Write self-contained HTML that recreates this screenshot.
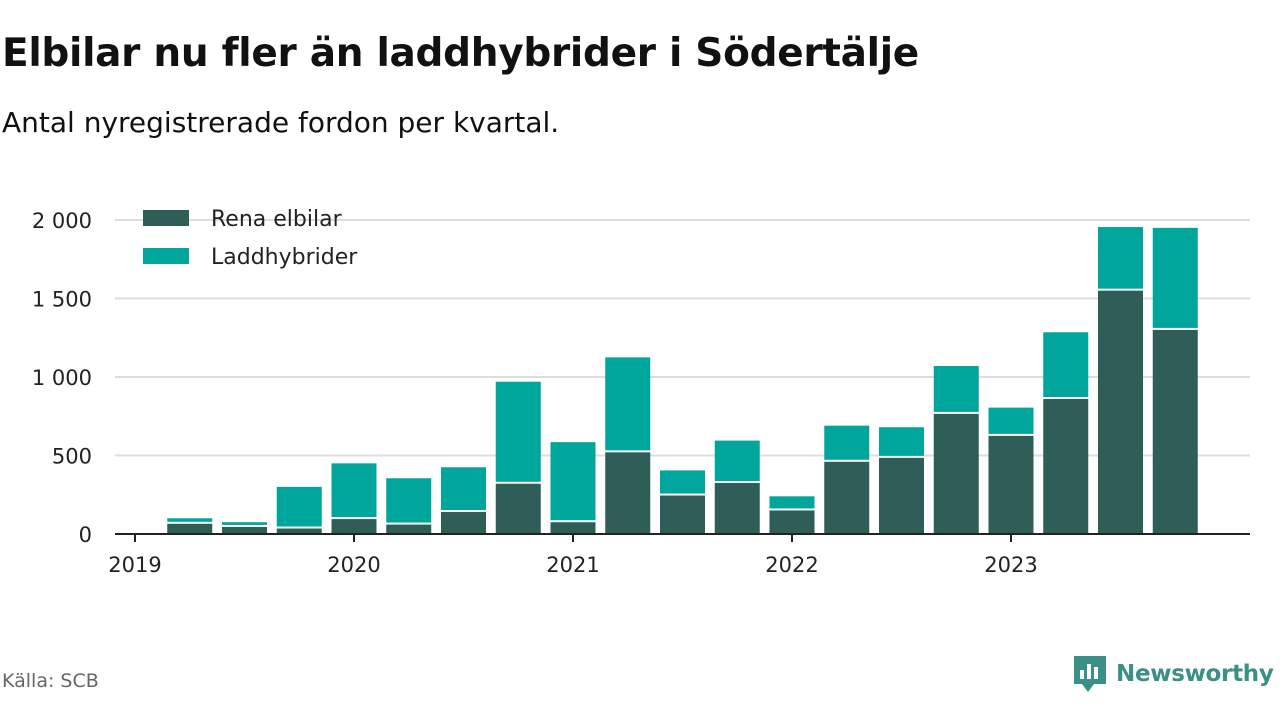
<!DOCTYPE html>
<html><head><meta charset="utf-8">
<style>
body{margin:0;background:#fff;width:1280px;height:720px;overflow:hidden;font-family:"DejaVu Sans",sans-serif;color:#111;}
#title{position:absolute;left:2px;top:31px;font-size:39px;font-weight:bold;margin:0;letter-spacing:-0.3px;}
#sub{position:absolute;left:2px;top:106px;font-size:28px;}
#src{position:absolute;left:2px;top:670px;font-size:19px;color:#666;}
#logo{position:absolute;left:1072px;top:654px;display:flex;align-items:center;}
#logo span{font-size:23px;font-weight:bold;color:#3a8f86;margin-left:8px;letter-spacing:-0.3px;}
svg{position:absolute;left:0;top:0;}
</style></head><body>
<h1 id="title">Elbilar nu fler än laddhybrider i Södertälje</h1>
<div id="sub">Antal nyregistrerade fordon per kvartal.</div>
<div id="src">Källa: SCB</div>
<div id="logo">
<svg width="36" height="40" style="position:static"><path d="M2 2h32v28H22l-6 8-6-8H2z" fill="#3a8f86"/><rect x="8" y="16" width="4" height="9" fill="#fff"/><rect x="15" y="10" width="4" height="15" fill="#fff"/><rect x="22" y="13" width="4" height="12" fill="#fff"/></svg>
<span>Newsworthy</span></div>
<svg id="chart" width="1280" height="720"></svg>
<script>
const quarters=["2019Q1","2019Q2","2019Q3","2019Q4","2020Q1","2020Q2","2020Q3","2020Q4","2021Q1","2021Q2","2021Q3","2021Q4","2022Q1","2022Q2","2022Q3","2022Q4","2023Q1","2023Q2","2023Q3"];
const elbilar=[65,45,35,95,60,140,320,75,520,245,325,150,460,485,765,625,860,1550,1300];
const laddhybrider=[35,30,265,355,295,285,650,510,605,160,270,90,230,195,305,180,425,405,650];
const yTicks=[0,500,1000,1500,2000];
const yTickLabels=["0","500","1 000","1 500","2 000"];
const xYears=[2019,2020,2021,2022,2023];
const NS="http://www.w3.org/2000/svg";
const svg=document.getElementById('chart');
const y=v=>534-v*(314/2000);
const xYear=yr=>135+(yr-2019)*219;
const xBar=i=>135+(i+1)*54.75;
function mk(t,a){const e=document.createElementNS(NS,t);for(const k in a)e.setAttribute(k,a[k]);svg.appendChild(e);return e;}
yTicks.forEach((v,i)=>{
 if(v>0){const l=mk('line',{x1:115,x2:1250,y1:y(v),y2:y(v),stroke:'#ddd','stroke-width':2});
 
 }
 const t=mk('text',{x:92,y:y(v)+8,'text-anchor':'end','font-size':21,fill:'#222','font-family':'DejaVu Sans'});
 t.textContent=yTickLabels[i];
 
 
});
quarters.forEach((q,i)=>{
 const cx=xBar(i),w=45;
 const r1=mk('rect',{x:cx-w/2,y:y(elbilar[i]),width:w,height:y(0)-y(elbilar[i]),fill:'#2f5d57'});
 
 
 const tot=elbilar[i]+laddhybrider[i];
 const r2=mk('rect',{x:cx-w/2,y:y(tot),width:w,height:Math.max(0,y(elbilar[i])-y(tot)-2),fill:'#00a69c'});
 
 
});
const ax=mk('line',{x1:115,x2:1250,y1:534,y2:534,stroke:'#222','stroke-width':2});


xYears.forEach(yr=>{
 const tk=mk('line',{x1:xYear(yr),x2:xYear(yr),y1:534,y2:542,stroke:'#222','stroke-width':2});
 
 
 const t=mk('text',{x:xYear(yr),y:572,'text-anchor':'middle','font-size':21,fill:'#222','font-family':'DejaVu Sans'});
 t.textContent=yr;
 
 
});
[["Rena elbilar","#2f5d57",218],["Laddhybrider","#00a69c",256]].forEach(([n,c,yy])=>{
 const r=mk('rect',{x:143,y:yy-8,width:46,height:16,fill:c});
 
 
 const t=mk('text',{x:211,y:yy+8,'font-size':22,fill:'#222','font-family':'DejaVu Sans'});
 t.textContent=n;
 
 
});
</script>
</body></html>
